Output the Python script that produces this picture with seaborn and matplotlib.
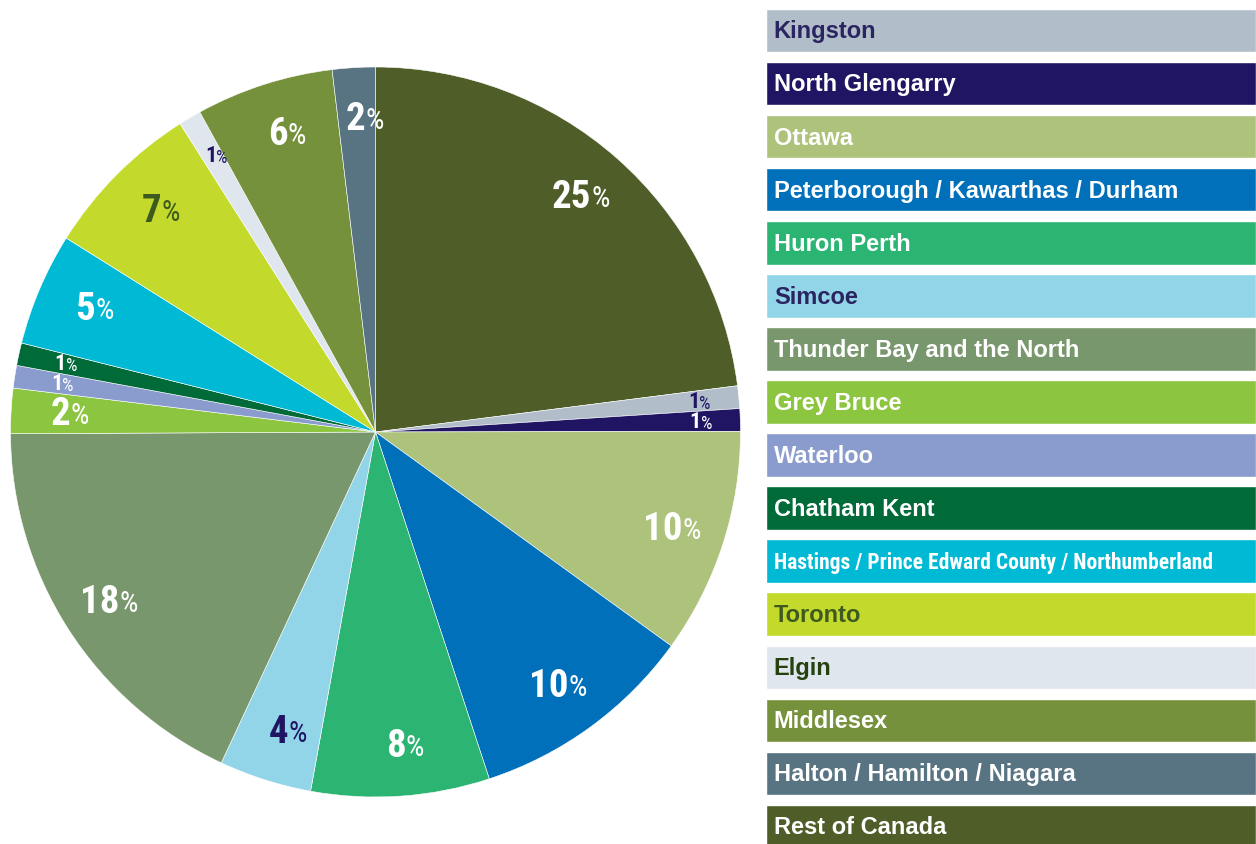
import numpy as np
import seaborn as sns
import matplotlib.pyplot as plt

# legend order (data order)
regions = [
    "Kingston", "North Glengarry", "Ottawa", "Peterborough / Kawarthas / Durham",
    "Huron Perth", "Simcoe", "Thunder Bay and the North", "Grey Bruce",
    "Waterloo", "Chatham Kent", "Hastings / Prince Edward County / Northumberland",
    "Toronto", "Elgin", "Middlesex", "Halton / Hamilton / Niagara", "Rest of Canada",
]
# slice sizes
shares = [1.0, 1.0, 10.0, 10.0, 7.9, 4.1, 18.0, 2.0, 1.0, 1.0, 5.0, 7.1, 1.0, 6.1, 1.9, 23.0]
# percentages as printed on the chart
share_labels = ["1", "1", "10", "10", "8", "4", "18", "2", "1", "1", "5", "7", "1", "6", "2", "25"]

colors = [
    "#b1bec9", "#1f1563", "#adc27a", "#0070bb", "#2cb473", "#93d5e8",
    "#78976d", "#8cc53f", "#8a9bcd", "#006a39", "#00b9d5", "#c3da2c",
    "#dfe6ee", "#76913c", "#587382", "#4f5e29",
]
legend_text_colors = [
    "#2a2461", "white", "white", "white", "white", "#2a2461", "white", "white",
    "white", "white", "white", "#3e5a1e", "#24410f", "white", "white", "white",
]
pie_text_colors = [
    "#1f1563", "white", "white", "white", "white", "#1f1563", "white", "white",
    "white", "white", "white", "#3e5a1e", "#1f1563", "white", "white", "white",
]

sns.set_theme(style="white")
plt.rcParams['font.family'] = ['Liberation Sans', 'DejaVu Sans']
NARROW = ['Roboto Condensed', 'DejaVu Sans']

fig = plt.figure(figsize=(12.56, 8.45), dpi=100)

# ---- pie ----
ax = fig.add_axes([10 / 1256, 47 / 845, 731 / 1256, 730 / 845])
order = [len(regions) - 1] + list(range(len(regions) - 1))  # Rest of Canada starts at 12 o'clock
wedges, _ = ax.pie(
    [shares[i] for i in order],
    colors=[colors[i] for i in order],
    startangle=90, counterclock=False, radius=1,
    wedgeprops={'edgecolor': 'white', 'linewidth': 0.4},
)
ax.set_xlim(-1, 1)
ax.set_ylim(-1, 1)
ax.set_aspect('equal')
ax.axis('off')

for w, i in zip(wedges, order):
    mid = np.deg2rad((w.theta1 + w.theta2) / 2)
    small = share_labels[i] == "1"
    r = 0.88 if small else 0.86
    x, y = r * np.cos(mid), r * np.sin(mid)
    num_size, pct_size = (16, 13) if small else (28, 21)
    shift = 3 if small else 6
    tc = pie_text_colors[i]
    ax.annotate(share_labels[i], (x, y), xytext=(shift, 0), textcoords='offset points',
                ha='right', va='center', fontsize=num_size, fontweight='bold',
                color=tc, family=NARROW)
    ax.annotate("%", (x, y), xytext=(shift, -1), textcoords='offset points',
                ha='left', va='center', fontsize=pct_size, color=tc, family=NARROW)

# ---- legend as bars ----
lax = fig.add_axes([766 / 1256, 0, 490 / 1256, 1])
sns.barplot(x=[1] * len(regions), y=regions, hue=regions, palette=colors,
            orient='h', width=0.82, legend=False, ax=lax, saturation=1)
lax.set_xlim(0, 1)
lax.set_ylim(15.33, -0.594)
lax.axis('off')
for i, name in enumerate(regions):
    if name.startswith("Hastings"):
        fam, size = NARROW, 15.5
    else:
        fam, size = ['Liberation Sans', 'DejaVu Sans'], 17
    lax.text(0.016, i + 0.13, name, ha='left', va='baseline', fontsize=size,
             fontweight='bold', color=legend_text_colors[i], family=fam)

fig.savefig("out.png", dpi=100)
